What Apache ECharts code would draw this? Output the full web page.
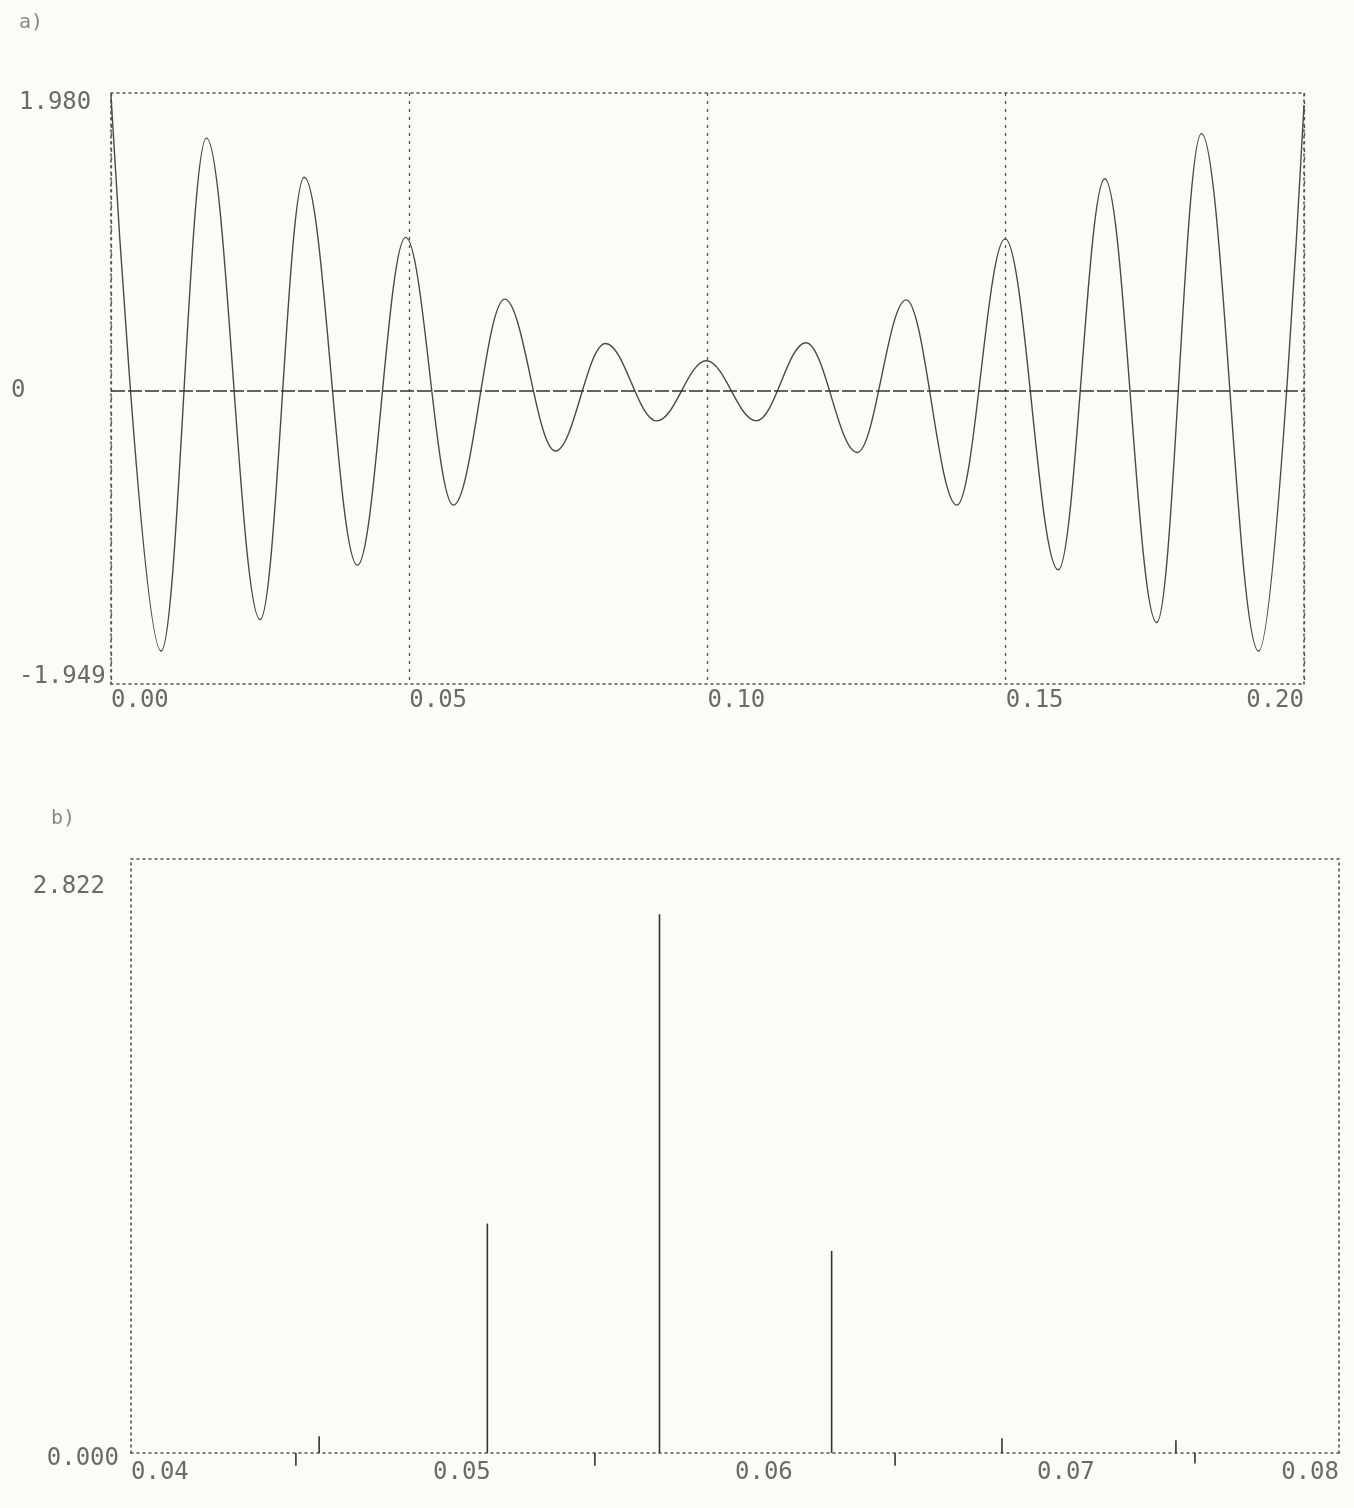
<!DOCTYPE html>
<html>
<head>
<meta charset="utf-8">
<script src="https://cdn.jsdelivr.net/npm/echarts@6/dist/echarts.min.js"></script>
<style>
  html, body { margin: 0; padding: 0; background: #fbfbf7; }
  #chart { width: 1354px; height: 1508px; }
</style>
</head>
<body>
<div id="chart"></div>
<script>
// ---- a) time signal: successive peaks and troughs ----
const timeSec = [
  0.0000, 0.0084, 0.0160, 0.0250, 0.0324, 0.0413, 0.0494, 0.0574, 0.0660, 0.0745,
  0.0829, 0.0915, 0.0998, 0.1082, 0.1165, 0.1251, 0.1333, 0.1418, 0.1499, 0.1588,
  0.1666, 0.1753, 0.1828, 0.1924, 0.2000
];
const signal = [
  1.96, -1.73, 1.68, -1.52, 1.42, -1.16, 1.02, -0.76, 0.61, -0.40,
  0.315, -0.20, 0.20, -0.20, 0.32, -0.41, 0.605, -0.76, 1.01, -1.19,
  1.41, -1.54, 1.71, -1.73, 1.90
];
const timeTicks = [-1.949, 0, 1.980];

// ---- b) spectrum lines ----
const freq = [0.04546, 0.04623, 0.0518, 0.05536, 0.0575, 0.0632, 0.0653, 0.06884, 0.0746, 0.07523];
const ampl = [-0.06, 0.08, 1.09, -0.06, 2.56, 0.96, -0.06, 0.07, 0.06, -0.05];
const specTicks = [0, 2.822];

const FONT = '"DejaVu Sans Mono", "Liberation Mono", monospace';
const TXT = '#6a6a6a';
const boxLine = { show: true, onZero: false, lineStyle: { color: '#555', width: 1.6, type: [2, 4] } };

const chart = echarts.init(document.getElementById('chart'));
chart.setOption({
  backgroundColor: '#fbfbf7',
  animation: false,
  title: [
    { text: 'a)', left: 14, top: 8, textStyle: { fontFamily: FONT, fontSize: 20, fontWeight: 'normal', color: '#888' } },
    { text: 'b)', left: 46, top: 804, textStyle: { fontFamily: FONT, fontSize: 20, fontWeight: 'normal', color: '#888' } }
  ],
  grid: [
    { left: 111, right: 50, top: 93, height: 591 },
    { left: 131, right: 15, top: 859, height: 594 }
  ],
  xAxis: [
    {
      gridIndex: 0, type: 'value', min: 0, max: 0.2, interval: 0.05, position: 'bottom',
      axisLine: boxLine, axisTick: { show: false },
      axisLabel: {
        margin: 5, align: 'left', alignMaxLabel: 'right', verticalAlign: 'top',
        fontFamily: FONT, fontSize: 24, color: TXT,
        formatter: v => v.toFixed(2)
      },
      splitLine: { show: true, lineStyle: { color: '#555', width: 1.3, type: [3, 5] } }
    },
    {
      gridIndex: 0, type: 'value', min: 0, max: 0.2, position: 'top',
      axisLine: boxLine, axisTick: { show: false }, axisLabel: { show: false }, splitLine: { show: false }
    },
    {
      gridIndex: 1, type: 'value', min: 0.04, max: 0.08, interval: 0.01, position: 'bottom',
      axisLine: boxLine, axisTick: { show: false },
      axisLabel: {
        margin: 8, align: 'left', alignMaxLabel: 'right', verticalAlign: 'top',
        fontFamily: FONT, fontSize: 24, color: TXT,
        formatter: v => v.toFixed(2)
      },
      splitLine: { show: false }
    },
    {
      gridIndex: 1, type: 'value', min: 0.04, max: 0.08, position: 'top',
      axisLine: boxLine, axisTick: { show: false }, axisLabel: { show: false }, splitLine: { show: false }
    }
  ],
  yAxis: [
    {
      gridIndex: 0, type: 'value', min: -1.949, max: 1.98, position: 'left',
      axisLine: boxLine, axisTick: { show: false },
      axisLabel: {
        customValues: timeTicks, margin: 92, align: 'left',
        fontFamily: FONT, fontSize: 24, color: TXT,
        formatter: v => (v === 0 ? '{z|0}' : v > 0 ? '{hi|' + v.toFixed(3) + '}' : '{lo|' + v.toFixed(3) + '}'),
        rich: {
          z: { fontFamily: FONT, fontSize: 24, color: TXT, padding: [0, 0, 0, -8] },
          hi: { fontFamily: FONT, fontSize: 24, color: TXT, padding: [20, 0, 0, 0] },
          lo: { fontFamily: FONT, fontSize: 24, color: TXT, padding: [0, 0, 14, 0] }
        }
      },
      splitLine: { show: false }
    },
    {
      gridIndex: 0, type: 'value', min: -1.949, max: 1.98, position: 'right',
      axisLine: boxLine, axisTick: { show: false }, axisLabel: { show: false }, splitLine: { show: false }
    },
    {
      gridIndex: 1, type: 'value', min: 0, max: 2.822, position: 'left',
      axisLine: boxLine, axisTick: { show: false },
      axisLabel: {
        customValues: specTicks, margin: 12, align: 'right',
        fontFamily: FONT, fontSize: 24, color: TXT,
        formatter: v => (v > 0 ? '{hi|' + v.toFixed(3) + '}' : '{lo|' + v.toFixed(3) + '}'),
        rich: {
          hi: { fontFamily: FONT, fontSize: 24, color: TXT, padding: [56, 14, 0, 0] },
          lo: { fontFamily: FONT, fontSize: 24, color: TXT, padding: [12, 0, 0, 0] }
        }
      },
      splitLine: { show: false }
    },
    {
      gridIndex: 1, type: 'value', min: 0, max: 2.822, position: 'right',
      axisLine: boxLine, axisTick: { show: false }, axisLabel: { show: false }, splitLine: { show: false }
    }
  ],
  series: [
    {
      type: 'line', xAxisIndex: 0, yAxisIndex: 0,
      data: timeSec.map((t, i) => [t, signal[i]]),
      smooth: 0.363, smoothMonotone: 'x', showSymbol: false, symbol: 'none',
      lineStyle: { color: '#4a4a4a', width: 1.4 },
      markLine: {
        silent: true, symbol: 'none', label: { show: false },
        lineStyle: { color: '#333', width: 1.7, type: [14, 3] },
        data: [{ yAxis: 0 }]
      }
    },
    {
      type: 'bar', xAxisIndex: 2, yAxisIndex: 2,
      data: freq.map((f, i) => [f, ampl[i]]),
      barWidth: 1.6, clip: false,
      itemStyle: { color: '#333' }
    }
  ]
});
</script>
</body>
</html>
